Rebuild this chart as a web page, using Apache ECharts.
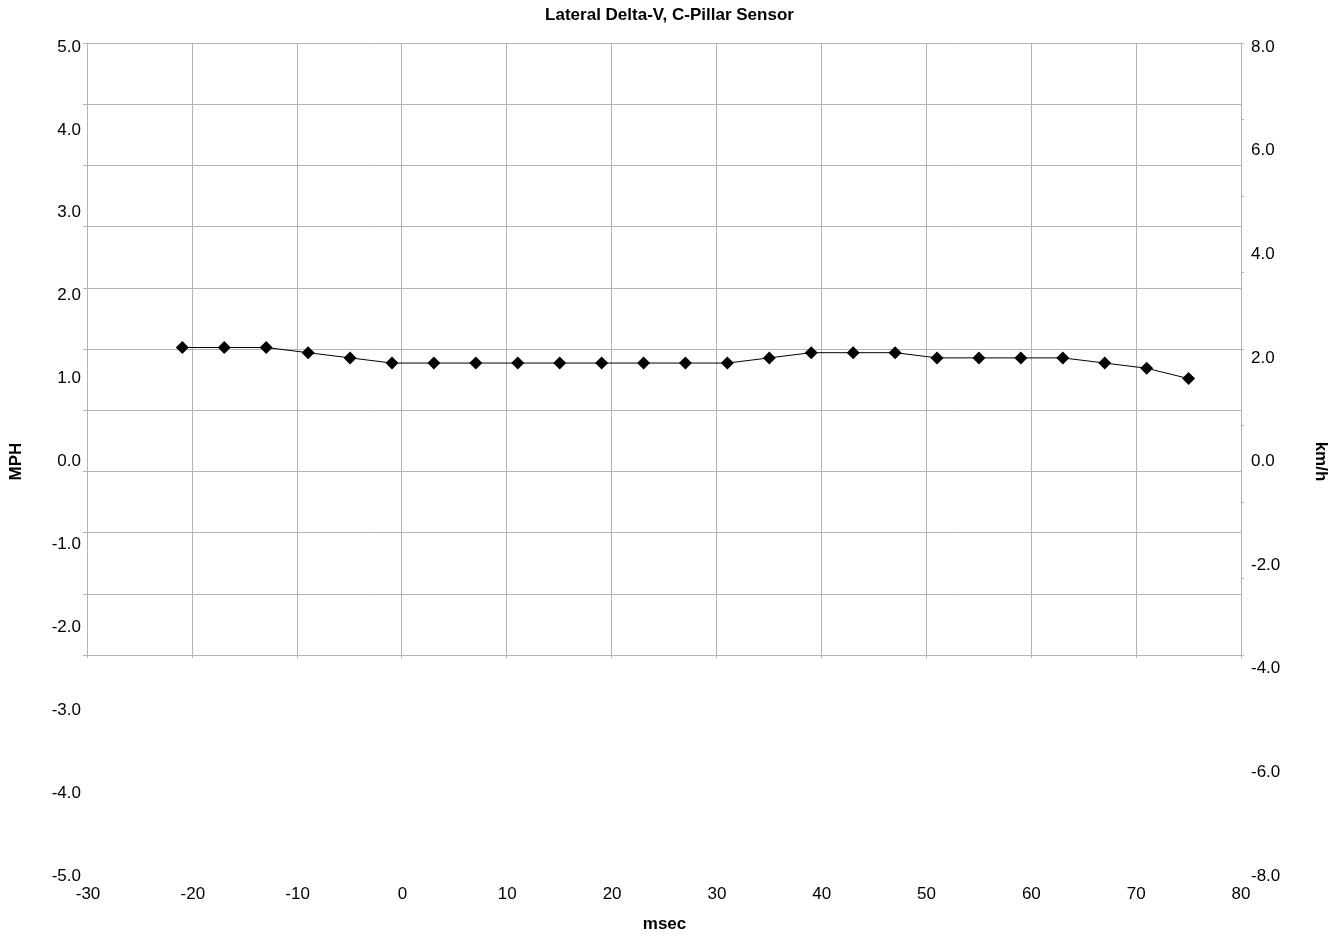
<!DOCTYPE html>
<html>
<head>
<meta charset="utf-8">
<script src="https://cdn.jsdelivr.net/npm/echarts@6/dist/echarts.min.js"></script>
<style>
html,body{margin:0;padding:0;background:#fff;}
#chart{width:1339px;height:939px;}
</style>
</head>
<body>
<div id="chart"></div>
<script>
const titleText = 'Lateral Delta-V, C-Pillar Sensor';
const xName = 'msec';
const yLeftName = 'MPH';
const yRightName = 'km/h';
const xMin = -30, xMax = 80, xStep = 10;
const mphMin = -5, mphMax = 5, mphStep = 1;
const kmhMin = -8, kmhMax = 8, kmhStep = 2;
const timeMs = [-21, -17, -13, -9, -5, -1, 3, 7, 11, 15, 19, 23, 27, 31, 35, 39, 43, 47, 51, 55, 59, 63, 67, 71, 75];
const deltaVKmh = [2.2, 2.2, 2.2, 2.1, 2.0, 1.9, 1.9, 1.9, 1.9, 1.9, 1.9, 1.9, 1.9, 1.9, 2.0, 2.1, 2.1, 2.1, 2.0, 2.0, 2.0, 2.0, 1.9, 1.8, 1.6];

const FONT = '"Liberation Sans", Arial, sans-serif';
const gridColor = '#b4b4b4';
const chart = echarts.init(document.getElementById('chart'));
const pts = timeMs.map((t, i) => [t, deltaVKmh[i]]);

chart.setOption({
  animation: false,
  backgroundColor: '#ffffff',
  textStyle: { fontFamily: FONT },
  title: {
    text: titleText, left: 'center', top: 2,
    textStyle: { fontFamily: FONT, fontSize: 17, fontWeight: 'bold', color: '#000' }
  },
  grid: [
    { left: 87, right: 98, top: 43, height: 612, containLabel: false },
    { left: 87, right: 98, top: 47, bottom: 63, containLabel: false }
  ],
  xAxis: [
    {
      gridIndex: 0, type: 'value', min: xMin, max: xMax, interval: xStep,
      axisLabel: { show: false },
      axisLine: { show: true, onZero: false, lineStyle: { color: gridColor, width: 1 } },
      axisTick: { show: true, length: 3, lineStyle: { color: gridColor } },
      splitLine: { show: true, lineStyle: { color: gridColor, width: 1 } }
    },
    {
      gridIndex: 1, type: 'value', min: xMin, max: xMax, interval: xStep,
      axisLine: { show: false }, axisTick: { show: false }, splitLine: { show: false },
      axisLabel: { show: true, color: '#000', fontSize: 17, fontFamily: FONT, margin: 10 },
      name: xName, nameLocation: 'middle', nameGap: 40,
      nameTextStyle: { color: '#000', fontSize: 17, fontWeight: 'bold', fontFamily: FONT }
    }
  ],
  yAxis: [
    {
      gridIndex: 0, type: 'value', position: 'left', min: mphMin, max: mphMax, interval: mphStep,
      axisLabel: { show: false },
      axisLine: { show: true, onZero: false, lineStyle: { color: gridColor } },
      axisTick: { show: true, length: 4, lineStyle: { color: gridColor } },
      splitLine: { show: true, lineStyle: { color: gridColor, width: 1 } }
    },
    {
      gridIndex: 0, type: 'value', position: 'right', min: kmhMin, max: kmhMax, interval: kmhStep,
      axisLabel: { show: false },
      axisLine: { show: true, onZero: false, lineStyle: { color: gridColor } },
      axisTick: { show: true, length: 3, lineStyle: { color: gridColor } },
      splitLine: { show: false }
    },
    {
      gridIndex: 1, type: 'value', position: 'left', min: mphMin, max: mphMax, interval: mphStep,
      axisLine: { show: false }, axisTick: { show: false }, splitLine: { show: false },
      axisLabel: { show: true, color: '#000', fontSize: 17, fontFamily: FONT, margin: 7,
        formatter: v => v.toFixed(1) },
      name: yLeftName, nameLocation: 'middle', nameGap: 63, nameRotate: 90,
      nameTextStyle: { color: '#000', fontSize: 17, fontWeight: 'bold', fontFamily: FONT }
    },
    {
      gridIndex: 1, type: 'value', position: 'right', min: kmhMin, max: kmhMax, interval: kmhStep,
      axisLine: { show: false }, axisTick: { show: false }, splitLine: { show: false },
      axisLabel: { show: true, color: '#000', fontSize: 17, fontFamily: FONT, margin: 10,
        formatter: v => v.toFixed(1) },
      name: yRightName, nameLocation: 'middle', nameGap: 71, nameRotate: -90,
      nameTextStyle: { color: '#000', fontSize: 17, fontWeight: 'bold', fontFamily: FONT }
    }
  ],
  series: [
    {
      type: 'line', xAxisIndex: 1, yAxisIndex: 3, data: pts,
      symbol: 'diamond', symbolSize: 13,
      lineStyle: { color: '#000', width: 1 },
      itemStyle: { color: '#000' }
    }
  ]
});
</script>
</body>
</html>
